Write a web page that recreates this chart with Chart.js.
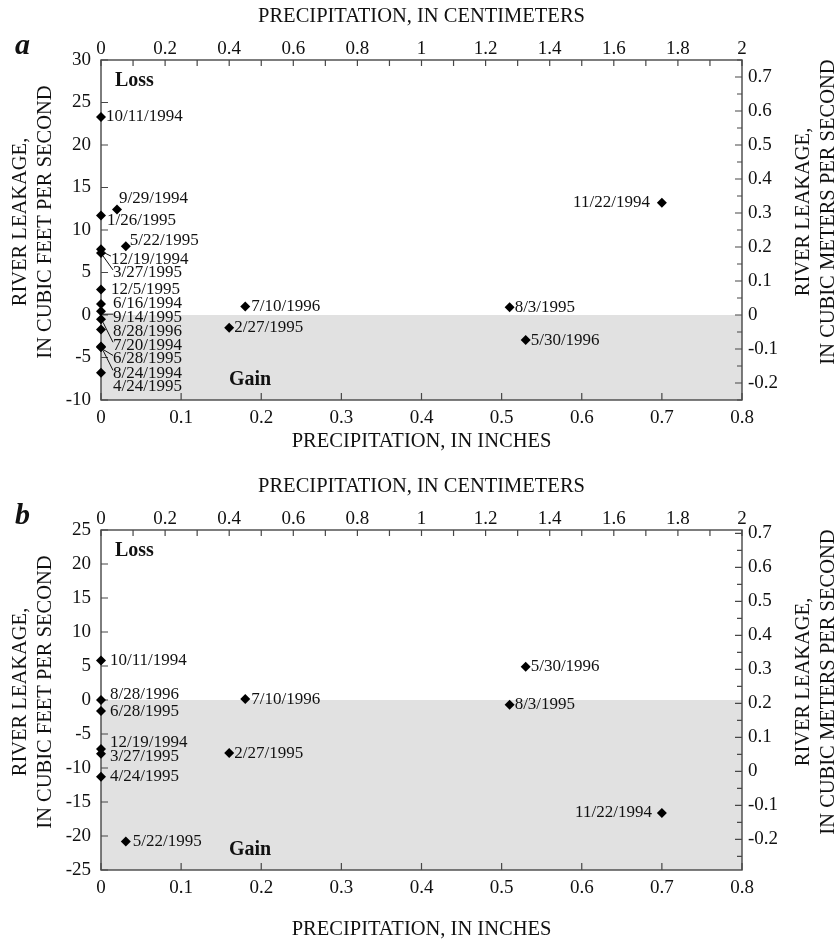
<!DOCTYPE html>
<html>
<head>
<meta charset="utf-8">
<script src="https://cdn.jsdelivr.net/npm/chart.js@4/dist/chart.umd.min.js"></script>
<style>
  html, body { margin: 0; padding: 0; background: #fff; }
  #wrap { width: 837px; height: 940px; }
  canvas { display: block; }
</style>
</head>
<body>
<div id="wrap">
  <canvas id="panelA" width="837" height="470"></canvas>
  <canvas id="panelB" width="837" height="470"></canvas>
</div>
<script>
// ---- Panel a: river leakage vs. precipitation ----
const datesA = [
  '10/11/1994', '9/29/1994', '1/26/1995', '5/22/1995', '12/19/1994', '3/27/1995',
  '12/5/1995', '6/16/1994', '9/14/1995', '7/20/1994', '8/28/1996', '6/28/1995',
  '8/24/1994', '4/24/1995', '7/10/1996', '2/27/1995', '11/22/1994', '8/3/1995', '5/30/1996'
];
const precipInchesA = [
  0, 0.02, 0, 0.031, 0, 0,
  0, 0, 0, 0, 0, 0,
  0, 0, 0.18, 0.16, 0.70, 0.51, 0.53
];
const leakageCfsA = [
  23.3, 12.4, 11.7, 8.1, 7.75, 7.3,
  3.0, 1.3, 0.45, -0.5, -1.7, -3.7,
  -3.8, -6.8, 1.0, -1.5, 13.2, 0.9, -2.95
];

// ---- Panel b ----
const datesB = [
  '10/11/1994', '8/28/1996', '6/28/1995', '12/19/1994', '3/27/1995', '4/24/1995',
  '5/22/1995', '7/10/1996', '2/27/1995', '5/30/1996', '8/3/1995', '11/22/1994'
];
const precipInchesB = [0, 0, 0, 0, 0, 0, 0.031, 0.18, 0.16, 0.53, 0.51, 0.70];
const leakageCfsB = [5.8, 0.0, -1.6, -7.2, -7.9, -11.3, -20.8, 0.15, -7.8, 4.9, -0.7, -16.6];

// ---- Axis tick labels ----
const inchTicks = [0, 0.1, 0.2, 0.3, 0.4, 0.5, 0.6, 0.7, 0.8];
const cmTicks = [0, 0.2, 0.4, 0.6, 0.8, 1, 1.2, 1.4, 1.6, 1.8, 2];
const cfsTicksA = [-10, -5, 0, 5, 10, 15, 20, 25, 30];
const cfsTicksB = [-25, -20, -15, -10, -5, 0, 5, 10, 15, 20, 25];
const cmsTicks = [-0.2, -0.1, 0, 0.1, 0.2, 0.3, 0.4, 0.5, 0.6, 0.7];

// ---- Date label placement (pixel offsets from each marker: dx, dy, leader line, right-aligned) ----
const labelLayoutA = [
  [5, 0], [2, -11], [6, 5], [4, -6], [10, 10, 1], [12, 20, 1],
  [10, 0], [12, 0], [12, 6, 1], [12, 26, 1], [12, 2], [12, 12, 1],
  [12, 26, 1], [12, 14], [6, 0], [5, 0], [-12, 0, 0, 1], [5, 0], [5, 0]
];
const labelLayoutB = [
  [9, 0], [9, -5], [9, 1], [9, -6], [9, 3], [9, 0],
  [7, 0], [6, 1], [5, 0], [5, 0], [5, 0], [-10, 0, 0, 1]
];

const SERIF = '"Liberation Serif", "Times New Roman", Times, serif';
const INK = '#111';
const AXIS = '#474747';

const fmt = v => String(Math.round(v * 100) / 100);

function axis(position, min, max, ticks, padding, fitFn) {
  const horizontal = position === 'top' || position === 'bottom';
  return {
    type: 'linear',
    axis: horizontal ? 'x' : 'y',
    position, min, max,
    afterBuildTicks: s => { s.ticks = ticks.map(v => ({ value: v })); },
    afterFit: fitFn,
    grid: { display: false, drawTicks: false },
    border: { display: false },
    ticks: {
      autoSkip: false, maxRotation: 0, minRotation: 0, padding,
      color: INK, font: { family: SERIF, size: 19 },
      callback: v => fmt(v)
    }
  };
}

function panelPlugin(cfg) {
  return {
    id: 'panelDecor',
    beforeDraw(chart) {
      // shaded "gain" region below zero leakage
      const { ctx, chartArea: a, scales } = chart;
      const y0 = scales.y.getPixelForValue(0);
      ctx.save();
      ctx.fillStyle = '#e1e1e1';
      ctx.fillRect(a.left, y0, a.right - a.left, a.bottom - y0);
      ctx.restore();
    },
    beforeDatasetsDraw(chart) {
      const { ctx, chartArea: a, scales } = chart;
      ctx.save();
      ctx.strokeStyle = AXIS;
      ctx.lineWidth = 1.4;
      ctx.strokeRect(a.left, a.top, a.right - a.left, a.bottom - a.top);
      ctx.lineWidth = 1.2;
      ctx.beginPath();
      // inward ticks, bottom (inches)
      inchTicks.forEach(v => {
        const x = scales.x.getPixelForValue(v);
        ctx.moveTo(x, a.bottom); ctx.lineTo(x, a.bottom - 7);
      });
      // top (centimeters), every 0.1
      for (let k = 0; k <= 20; k++) {
        const x = scales.x2.getPixelForValue(k / 10);
        ctx.moveTo(x, a.top); ctx.lineTo(x, a.top + 6);
      }
      // left (cubic feet per second)
      cfg.cfsTicks.forEach(v => {
        const y = scales.y.getPixelForValue(v);
        ctx.moveTo(a.left, y); ctx.lineTo(a.left + 7, y);
      });
      // right (cubic meters per second), every 0.05
      const r = scales.y2;
      for (let k = Math.ceil(r.min / 0.05 - 1e-6); k * 0.05 <= r.max + 1e-6; k++) {
        const y = r.getPixelForValue(k * 0.05);
        const len = k % 2 === 0 ? 7 : 5;
        ctx.moveTo(a.right, y); ctx.lineTo(a.right - len, y);
      }
      ctx.stroke();
      ctx.restore();
    },
    afterDatasetsDraw(chart) {
      const { ctx, chartArea: a, scales } = chart;
      const meta = chart.getDatasetMeta(0);
      ctx.save();
      // date labels
      ctx.fillStyle = INK;
      ctx.strokeStyle = INK;
      ctx.lineWidth = 1;
      ctx.font = `17px ${SERIF}`;
      ctx.textBaseline = 'middle';
      meta.data.forEach((pt, i) => {
        const [dx, dy, leader, right] = cfg.layout[i];
        const x = pt.x + dx, y = pt.y + dy;
        if (leader) {
          ctx.beginPath();
          ctx.moveTo(pt.x + 2, pt.y + 3);
          ctx.lineTo(x, y - 3);
          ctx.stroke();
        }
        ctx.textAlign = right ? 'right' : 'left';
        ctx.fillText(cfg.dates[i], x, y);
      });
      // region captions
      ctx.font = `bold 20px ${SERIF}`;
      ctx.textAlign = 'left';
      ctx.fillText('Loss', a.left + 14, a.top + 21);
      ctx.fillText('Gain', a.left + 128, a.bottom - 20);
      // axis titles
      ctx.font = `20.5px ${SERIF}`;
      ctx.textAlign = 'center';
      const cx = (a.left + a.right) / 2;
      ctx.fillText('PRECIPITATION, IN CENTIMETERS', cx, a.top - 43);
      ctx.fillText('PRECIPITATION, IN INCHES', cx, cfg.bottomTitleY);
      const cy = (a.top + a.bottom) / 2;
      const vtitle = (x1, x2, yc, line1, line2) => {
        ctx.save();
        ctx.translate(x1, yc); ctx.rotate(-Math.PI / 2);
        ctx.fillText(line1, 0, 0);
        ctx.restore();
        ctx.save();
        ctx.translate(x2, yc); ctx.rotate(-Math.PI / 2);
        ctx.fillText(line2, 0, 0);
        ctx.restore();
      };
      vtitle(21, 46, cy - 8, 'RIVER LEAKAGE,', 'IN CUBIC FEET PER SECOND');
      vtitle(804, 829, cy - 18, 'RIVER LEAKAGE,', 'IN CUBIC METERS PER SECOND');
      // panel letter
      ctx.font = `italic bold 30px ${SERIF}`;
      ctx.textAlign = 'left';
      ctx.textBaseline = 'alphabetic';
      ctx.fillText(cfg.letter, 15, 54);
      ctx.restore();
    }
  };
}

function buildPanel(canvasId, cfg) {
  return new Chart(document.getElementById(canvasId), {
    type: 'scatter',
    data: {
      datasets: [{
        data: cfg.precip.map((x, i) => ({ x, y: cfg.leak[i] })),
        xAxisID: 'x', yAxisID: 'y',
        pointStyle: 'rectRot', pointRadius: 5, pointHoverRadius: 5,
        backgroundColor: '#000', borderColor: '#000', borderWidth: 0,
        clip: false
      }]
    },
    options: {
      responsive: false, animation: false, devicePixelRatio: 1,
      events: [],
      layout: { padding: 0 },
      plugins: { legend: { display: false }, tooltip: { enabled: false } },
      scales: {
        x: axis('bottom', 0, 0.8, inchTicks, 7, s => { s.height = 70; }),
        x2: axis('top', 0, 2, cmTicks, 0, s => { s.height = 60; }),
        y: axis('left', cfg.cfsMin, cfg.cfsMax, cfg.cfsTicks, 10, s => { s.width = 101; }),
        y2: axis('right', cfg.cmsMin, cfg.cmsMax, cmsTicks, 6, s => { s.width = 95; })
      }
    },
    plugins: [panelPlugin(cfg)]
  });
}

buildPanel('panelA', {
  letter: 'a', dates: datesA, precip: precipInchesA, leak: leakageCfsA, layout: labelLayoutA,
  cfsMin: -10, cfsMax: 30, cfsTicks: cfsTicksA, cmsMin: -0.25, cmsMax: 0.75,
  bottomTitleY: 442
});
buildPanel('panelB', {
  letter: 'b', dates: datesB, precip: precipInchesB, leak: leakageCfsB, layout: labelLayoutB,
  cfsMin: -25, cfsMax: 25, cfsTicks: cfsTicksB, cmsMin: -0.29, cmsMax: 0.71,
  bottomTitleY: 460
});
</script>
</body>
</html>
